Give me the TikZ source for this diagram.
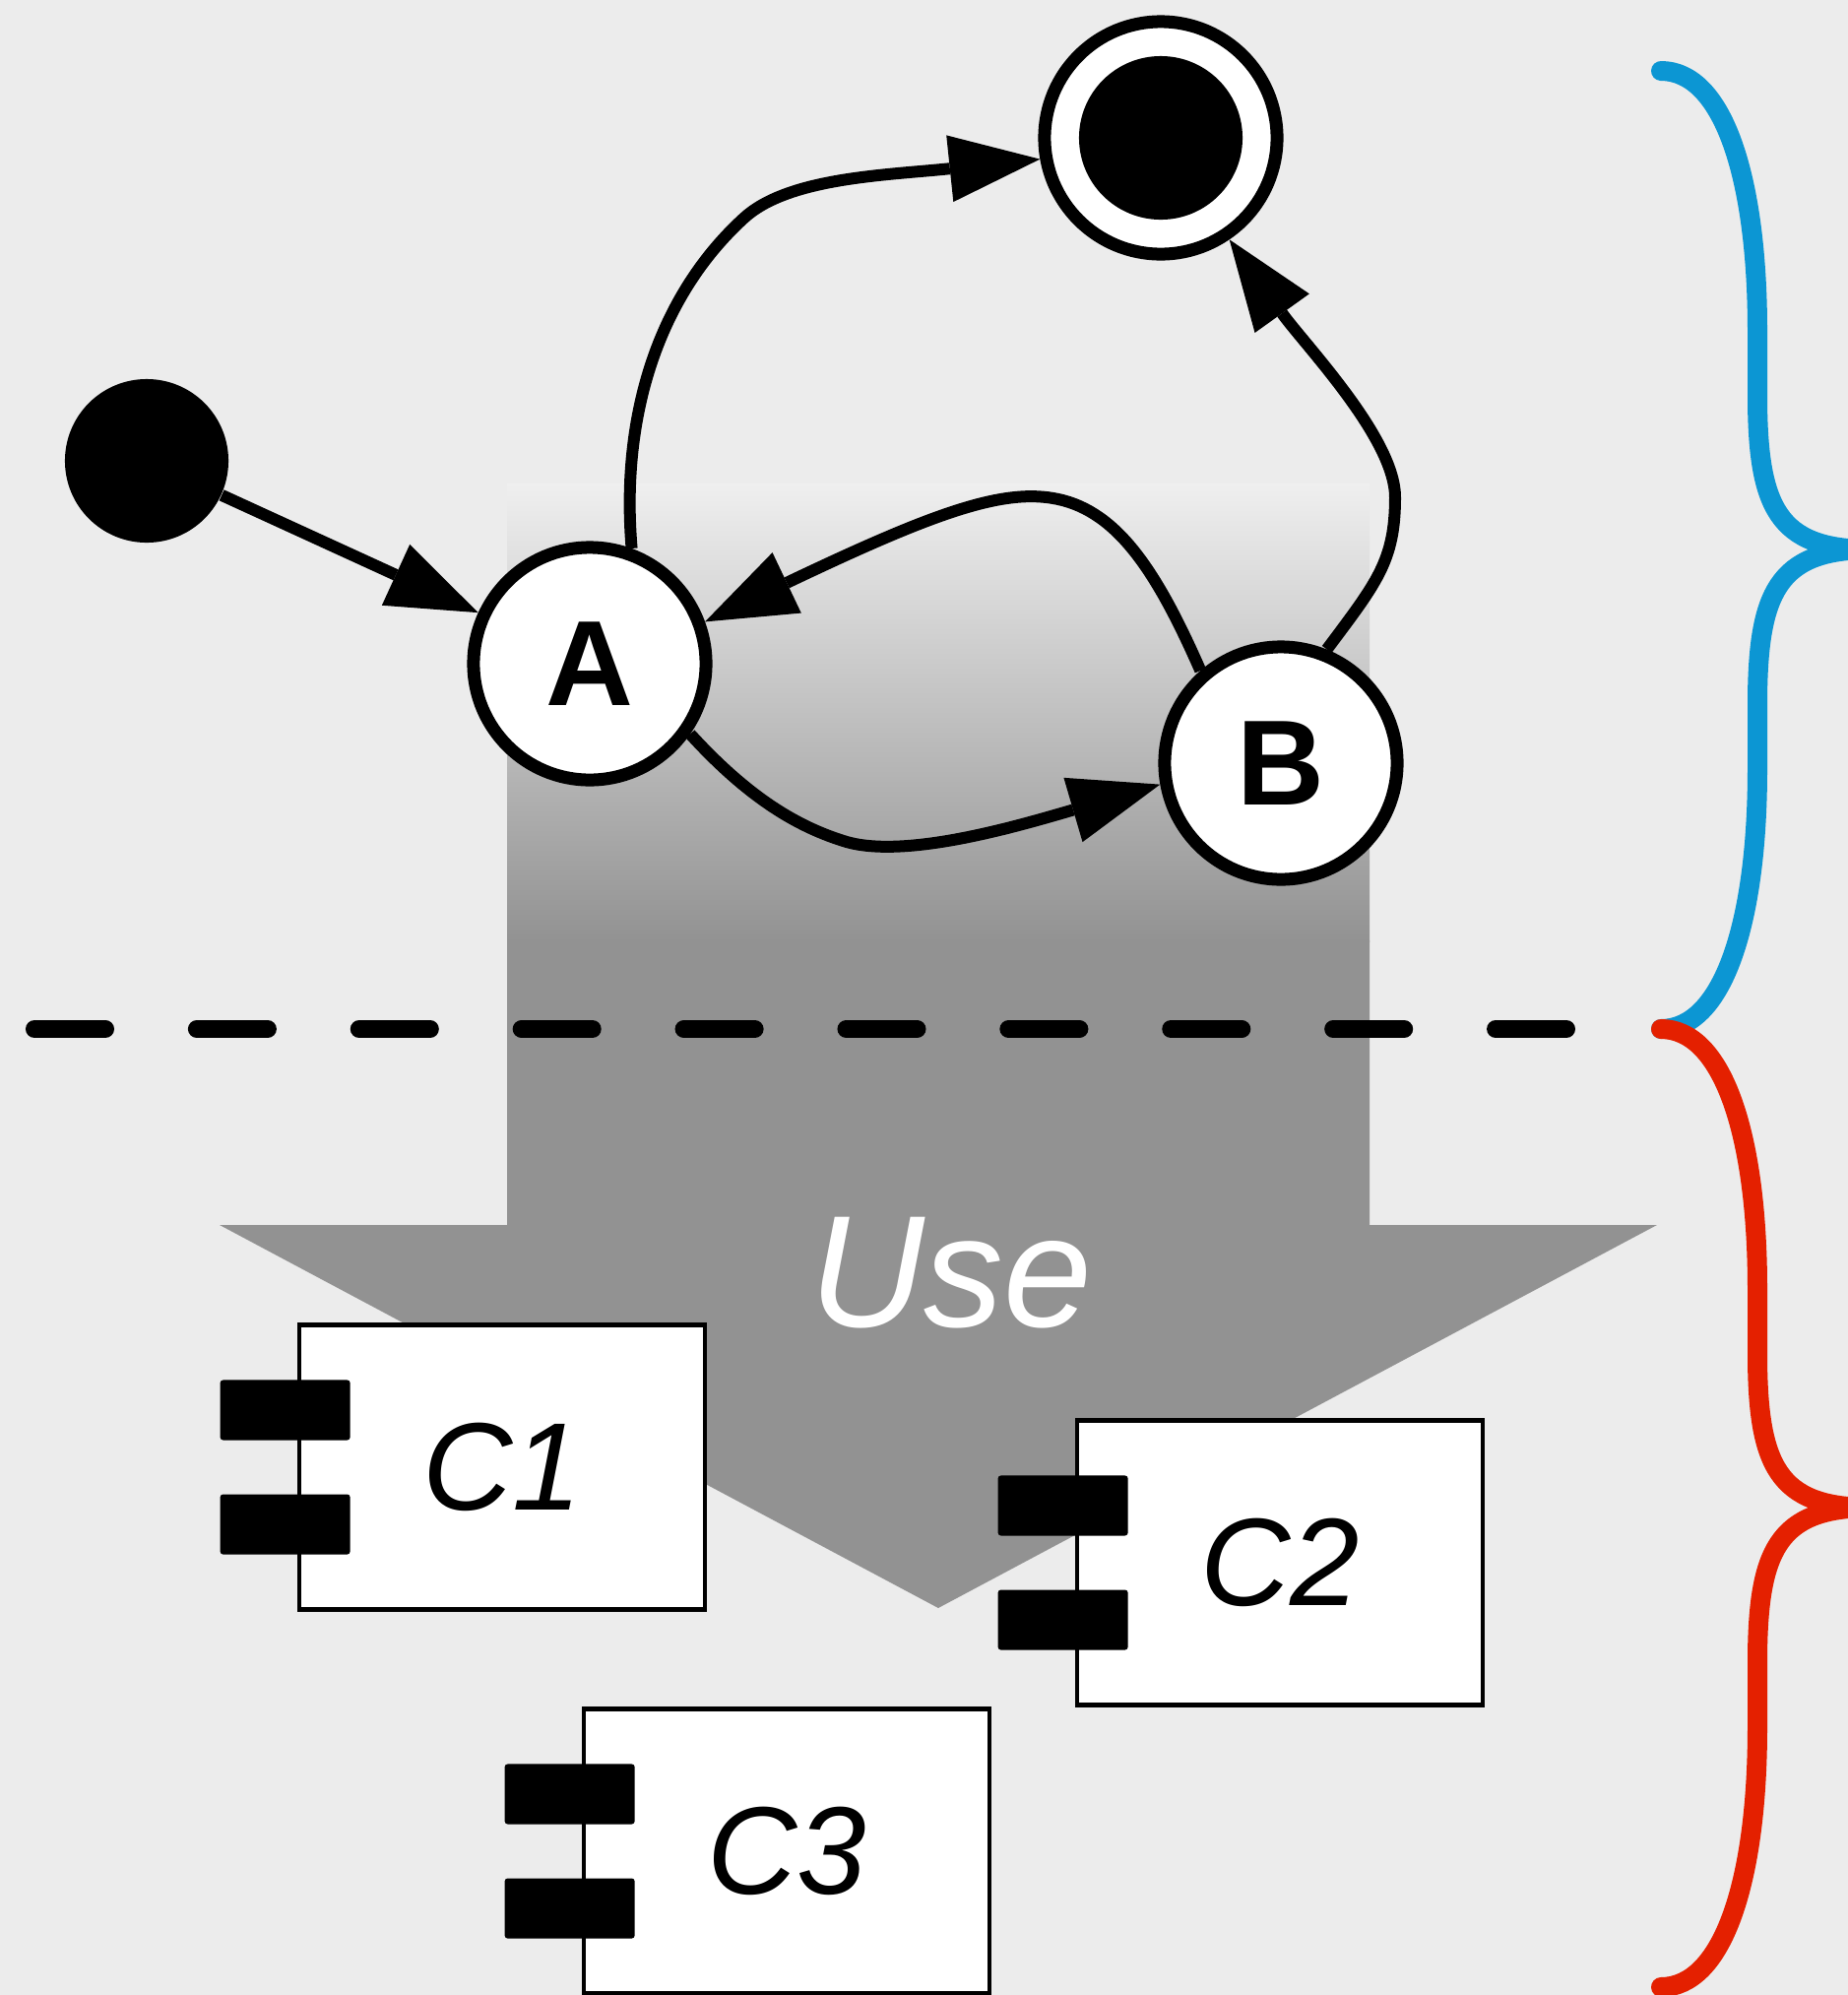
\documentclass[tikz,border=0pt]{standalone}
\usepackage{fontspec}
\setmainfont{Liberation Sans}
\usetikzlibrary{arrows.meta,positioning}

\definecolor{bg}{RGB}{236,236,236}
\definecolor{usegray}{RGB}{146,146,146}
\definecolor{topgray}{RGB}{239,239,239}
\definecolor{braceblue}{RGB}{12,150,211}
\definecolor{bracered}{RGB}{228,32,0}

\tikzset{
  trans/.style={draw,line width=0.12cm,-{Triangle[length=9.2mm,width=6.8mm,line width=0pt]}},
  brace/.style={line width=0.2cm,line cap=round,line join=round},
  port/.style={fill,rounded corners=0.03cm,minimum width=1.32cm,minimum height=0.61cm,inner sep=0pt}
}

\begin{document}
\begin{tikzpicture}[x=0.01cm,y=-0.01cm]

  \useasboundingbox (0,0) rectangle (1877,2026);
  \fill[bg] (0,0) rectangle (1877,2026);

  % the big use arrow
  \shade[top color=topgray,bottom color=usegray] (515,491) rectangle (1391,956);
  \fill[usegray] (515,955) -- (1391,955) -- (1391,1244) -- (1683,1244)
    -- (953,1633) -- (223,1244) -- (515,1244) -- cycle;
  \node[text=white,font=\fontsize{46}{50}\selectfont\itshape] (use) at (966,1293) {Use};

  % separator
  \draw[line width=0.18cm,line cap=round,dash pattern=on 0.72cm off 0.928cm]
    (35,1045) -- (1591,1045);

  % braces
  \foreach \col/\y in {braceblue/0,bracered/973}
  {
    \begin{scope}[yshift=-\y*0.01cm]
      \draw[brace,\col] (1687,72) .. controls (1750,72) and (1785,180) .. (1785,336)
        -- (1785,401) .. controls (1785,515) and (1805,558) .. (1900,558)
        .. controls (1805,558) and (1785,602) .. (1785,716)
        -- (1785,781) .. controls (1785,937) and (1750,1045) .. (1687,1045);
    \end{scope}
  }

  % states
  \begin{scope}[every node/.style={circle,draw,line width=0.13cm,fill=white,minimum size=2.36cm,inner sep=0pt,font=\fontsize{35}{40}\selectfont\bfseries}]
    \node (A) at (599,674) {A};
    \node (B) at (1301,775) {B};
    \node (final) at (1179,140) {};
  \end{scope}

  \begin{scope}[every node/.style={circle,fill,minimum size=1.66cm,inner sep=0pt}]
    \node (init) at (149,468) {};
    \node (finaldot) at (final) {};
  \end{scope}

  % transitions
  \draw[trans] (init) -- (A);
  \draw[trans] (A.70) .. controls (630,420) and (670,300) .. (755,222)
    .. controls (800,180) and (900,178) .. (final.190);
  \draw[trans] (B.68) .. controls (1398,592) and (1417,570) .. (1417,505)
    .. controls (1417,445) and (1325,350) .. (final.-56);
  \draw[trans] (B.131) .. controls (1175,580) and (1135,520) .. (1075,507)
    .. controls (1020,495) and (950,520) .. (A.20);
  \draw[trans] (A.-35) .. controls (760,810) and (810,840) .. (860,855)
    .. controls (920,872) and (1030,840) .. (B.190);

  % components
  \begin{scope}[every node/.style={draw,line width=0.045cm,fill=white,minimum width=4.12cm,minimum height=2.89cm,inner sep=0pt,font=\fontsize{36}{40}\selectfont\itshape}]
    \node (C1) at (510,1490) {C1};
    \node (C2) at (1300,1587) {C2};
    \node (C3) at (799,1880) {C3};
  \end{scope}

  \node[port] (C1a) at ([xshift=-0.12cm,yshift=0.58cm]C1.west) {};
  \node[port] (C1b) at ([xshift=-0.12cm,yshift=-0.58cm]C1.west) {};
  \node[port] (C2a) at ([xshift=-0.12cm,yshift=0.58cm]C2.west) {};
  \node[port] (C2b) at ([xshift=-0.12cm,yshift=-0.58cm]C2.west) {};
  \node[port] (C3a) at ([xshift=-0.12cm,yshift=0.58cm]C3.west) {};
  \node[port] (C3b) at ([xshift=-0.12cm,yshift=-0.58cm]C3.west) {};

\end{tikzpicture}
\end{document}
